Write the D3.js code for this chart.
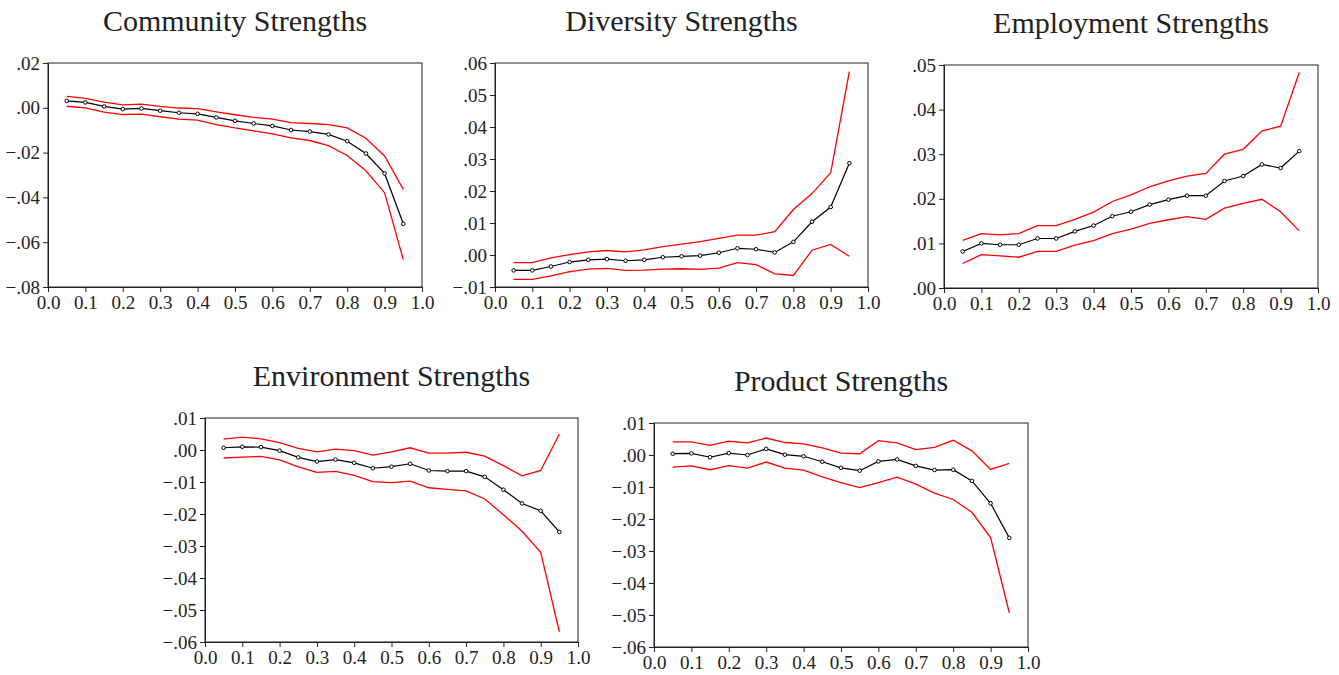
<!DOCTYPE html>
<html>
<head>
<meta charset="utf-8">
<script src="https://cdn.jsdelivr.net/npm/d3@7"></script>
<style>
  body { margin: 0; background: #fff; }
  svg { display: block; }
  text { font-family: "Liberation Serif", "DejaVu Serif", serif; fill: #222; }
</style>
</head>
<body>
<svg id="chart" width="1339" height="675"></svg>
<script>
// quantiles shared by all panels
const quantiles = [0.05, 0.10, 0.15, 0.20, 0.25, 0.30, 0.35, 0.40, 0.45, 0.50,
                   0.55, 0.60, 0.65, 0.70, 0.75, 0.80, 0.85, 0.90, 0.95];
const xTicks = [0.0, 0.1, 0.2, 0.3, 0.4, 0.5, 0.6, 0.7, 0.8, 0.9, 1.0];

const titles = ["Community Strengths", "Diversity Strengths", "Employment Strengths",
                "Environment Strengths", "Product Strengths"];

// coefficient estimates per quantile
const communityCoef = [0.0031, 0.0024, 0.0006, -0.0006, -0.0003, -0.0013, -0.0022, -0.0027, -0.0043, -0.0058,
                       -0.0070, -0.0081, -0.0099, -0.0106, -0.0119, -0.0149, -0.0204, -0.0293, -0.0518];
const communityUpper = [0.0051, 0.0042, 0.0025, 0.0013, 0.0016, 0.0006, -0.0001, -0.0004, -0.0018, -0.0031,
                        -0.0043, -0.0051, -0.0066, -0.0070, -0.0075, -0.0090, -0.0136, -0.0215, -0.0364];
const communityLower = [0.0007, 0.0000, -0.0019, -0.0030, -0.0028, -0.0040, -0.0051, -0.0055, -0.0075, -0.0090,
                        -0.0103, -0.0116, -0.0134, -0.0146, -0.0169, -0.0213, -0.0281, -0.0379, -0.0678];

const diversityCoef = [-0.0048, -0.0048, -0.0036, -0.0022, -0.0015, -0.0013, -0.0018, -0.0015, -0.0007, -0.0004,
                       -0.0002, 0.0007, 0.0021, 0.0018, 0.0008, 0.0041, 0.0104, 0.0150, 0.0287];
const diversityUpper = [-0.0024, -0.0024, -0.0009, 0.0001, 0.0010, 0.0014, 0.0010, 0.0016, 0.0026, 0.0034,
                        0.0042, 0.0052, 0.0062, 0.0062, 0.0073, 0.0142, 0.0192, 0.0257, 0.0573];
const diversityLower = [-0.0076, -0.0076, -0.0065, -0.0052, -0.0044, -0.0042, -0.0048, -0.0047, -0.0044, -0.0043,
                        -0.0045, -0.0041, -0.0024, -0.0030, -0.0059, -0.0064, 0.0015, 0.0033, -0.0004];

const employmentCoef = [0.0082, 0.0100, 0.0097, 0.0097, 0.0111, 0.0111, 0.0127, 0.0140, 0.0161, 0.0171,
                        0.0187, 0.0198, 0.0207, 0.0207, 0.0240, 0.0251, 0.0277, 0.0269, 0.0307];
const employmentUpper = [0.0107, 0.0122, 0.0119, 0.0122, 0.0140, 0.0140, 0.0154, 0.0170, 0.0194, 0.0209,
                         0.0227, 0.0240, 0.0251, 0.0257, 0.0300, 0.0311, 0.0352, 0.0363, 0.0483];
const employmentLower = [0.0055, 0.0075, 0.0072, 0.0069, 0.0082, 0.0082, 0.0096, 0.0106, 0.0122, 0.0132,
                         0.0145, 0.0153, 0.0160, 0.0154, 0.0179, 0.0190, 0.0199, 0.0171, 0.0128];

const environmentCoef = [0.0007, 0.0010, 0.0009, -0.0002, -0.0023, -0.0036, -0.0030, -0.0040, -0.0057, -0.0052,
                         -0.0043, -0.0064, -0.0066, -0.0066, -0.0084, -0.0124, -0.0167, -0.0190, -0.0256];
const environmentUpper = [0.0034, 0.0040, 0.0035, 0.0023, 0.0005, -0.0006, 0.0003, -0.0002, -0.0016, -0.0006,
                          0.0007, -0.0010, -0.0010, -0.0007, -0.0019, -0.0049, -0.0081, -0.0064, 0.0050];
const environmentLower = [-0.0025, -0.0022, -0.0020, -0.0031, -0.0053, -0.0070, -0.0067, -0.0079, -0.0099, -0.0102,
                          -0.0097, -0.0118, -0.0123, -0.0128, -0.0153, -0.0202, -0.0254, -0.0320, -0.0568];

const productCoef = [0.0004, 0.0005, -0.0007, 0.0006, 0.0000, 0.0019, 0.0001, -0.0004, -0.0021, -0.0040,
                     -0.0049, -0.0020, -0.0014, -0.0034, -0.0047, -0.0046, -0.0081, -0.0151, -0.0259];
const productUpper = [0.0041, 0.0041, 0.0030, 0.0043, 0.0038, 0.0053, 0.0039, 0.0035, 0.0022, 0.0006,
                      0.0004, 0.0045, 0.0038, 0.0017, 0.0024, 0.0046, 0.0013, -0.0045, -0.0026];
const productLower = [-0.0038, -0.0034, -0.0046, -0.0033, -0.0041, -0.0022, -0.0041, -0.0047, -0.0068, -0.0086,
                      -0.0102, -0.0086, -0.0069, -0.0091, -0.0119, -0.0139, -0.0179, -0.0258, -0.0493];

// y-axis ticks per panel
const communityTicks = [0.02, 0.00, -0.02, -0.04, -0.06, -0.08];
const diversityTicks = [0.06, 0.05, 0.04, 0.03, 0.02, 0.01, 0.00, -0.01];
const employmentTicks = [0.05, 0.04, 0.03, 0.02, 0.01, 0.00];
const environmentTicks = [0.01, 0.00, -0.01, -0.02, -0.03, -0.04, -0.05, -0.06];
const productTicks = [0.01, 0.00, -0.01, -0.02, -0.03, -0.04, -0.05, -0.06];

// plot frames: left, top, right, bottom
const frames = [
  [48, 63, 422, 287],
  [495, 63, 868, 287],
  [944, 65, 1318, 288],
  [205, 418, 578, 642],
  [654, 423, 1028, 647]
];

const panels = [
  { coef: communityCoef, upper: communityUpper, lower: communityLower, ticks: communityTicks },
  { coef: diversityCoef, upper: diversityUpper, lower: diversityLower, ticks: diversityTicks },
  { coef: employmentCoef, upper: employmentUpper, lower: employmentLower, ticks: employmentTicks },
  { coef: environmentCoef, upper: environmentUpper, lower: environmentLower, ticks: environmentTicks },
  { coef: productCoef, upper: productUpper, lower: productLower, ticks: productTicks }
];

const svg = d3.select("#chart");

const fmtY = v => d3.format(".2f")(v).replace("0.", ".");
const fmtX = d3.format(".1f");

panels.forEach((p, i) => {
  const [l, t, r, b] = frames[i];
  const x = d3.scaleLinear().domain([0, 1]).range([l, r]);
  const y = d3.scaleLinear().domain(d3.extent(p.ticks)).range([b, t]);

  const g = svg.append("g");

  g.append("text")
    .attr("x", (l + r) / 2)
    .attr("y", t - 32)
    .attr("text-anchor", "middle")
    .style("font-size", "30px")
    .text(titles[i]);

  g.append("rect")
    .attr("x", l).attr("y", t)
    .attr("width", r - l).attr("height", b - t)
    .attr("fill", "none")
    .attr("stroke", "#222")
    .attr("stroke-width", 1);

  const yAxis = g.append("g")
    .attr("transform", `translate(${l},0)`)
    .call(d3.axisLeft(y).tickValues(p.ticks).tickFormat(fmtY).tickSizeOuter(0).tickSize(5).tickPadding(3));
  const xAxis = g.append("g")
    .attr("transform", `translate(0,${b})`)
    .call(d3.axisBottom(x).tickValues(xTicks).tickFormat(fmtX).tickSizeOuter(0).tickSize(5).tickPadding(4));

  [yAxis, xAxis].forEach(a => {
    a.selectAll("path").attr("stroke", "#222");
    a.selectAll("line").attr("stroke", "#222");
    a.selectAll("text")
      .style("font-family", '"Liberation Serif", serif')
      .style("font-size", "19px")
      .attr("fill", "#222");
  });

  const line = d3.line()
    .x((d, k) => x(quantiles[k]))
    .y(d => y(d));

  [p.upper, p.lower].forEach(band => {
    g.append("path")
      .datum(band)
      .attr("d", line)
      .attr("fill", "none")
      .attr("stroke", "#ff0000")
      .attr("stroke-width", 1.3);
  });

  g.append("path")
    .datum(p.coef)
    .attr("d", line)
    .attr("fill", "none")
    .attr("stroke", "#000")
    .attr("stroke-width", 1.2);

  g.selectAll("circle")
    .data(p.coef)
    .enter().append("circle")
    .attr("cx", (d, k) => x(quantiles[k]))
    .attr("cy", d => y(d))
    .attr("r", 1.8)
    .attr("fill", "#fff")
    .attr("stroke", "#000")
    .attr("stroke-width", 1);
});
</script>
</body>
</html>
